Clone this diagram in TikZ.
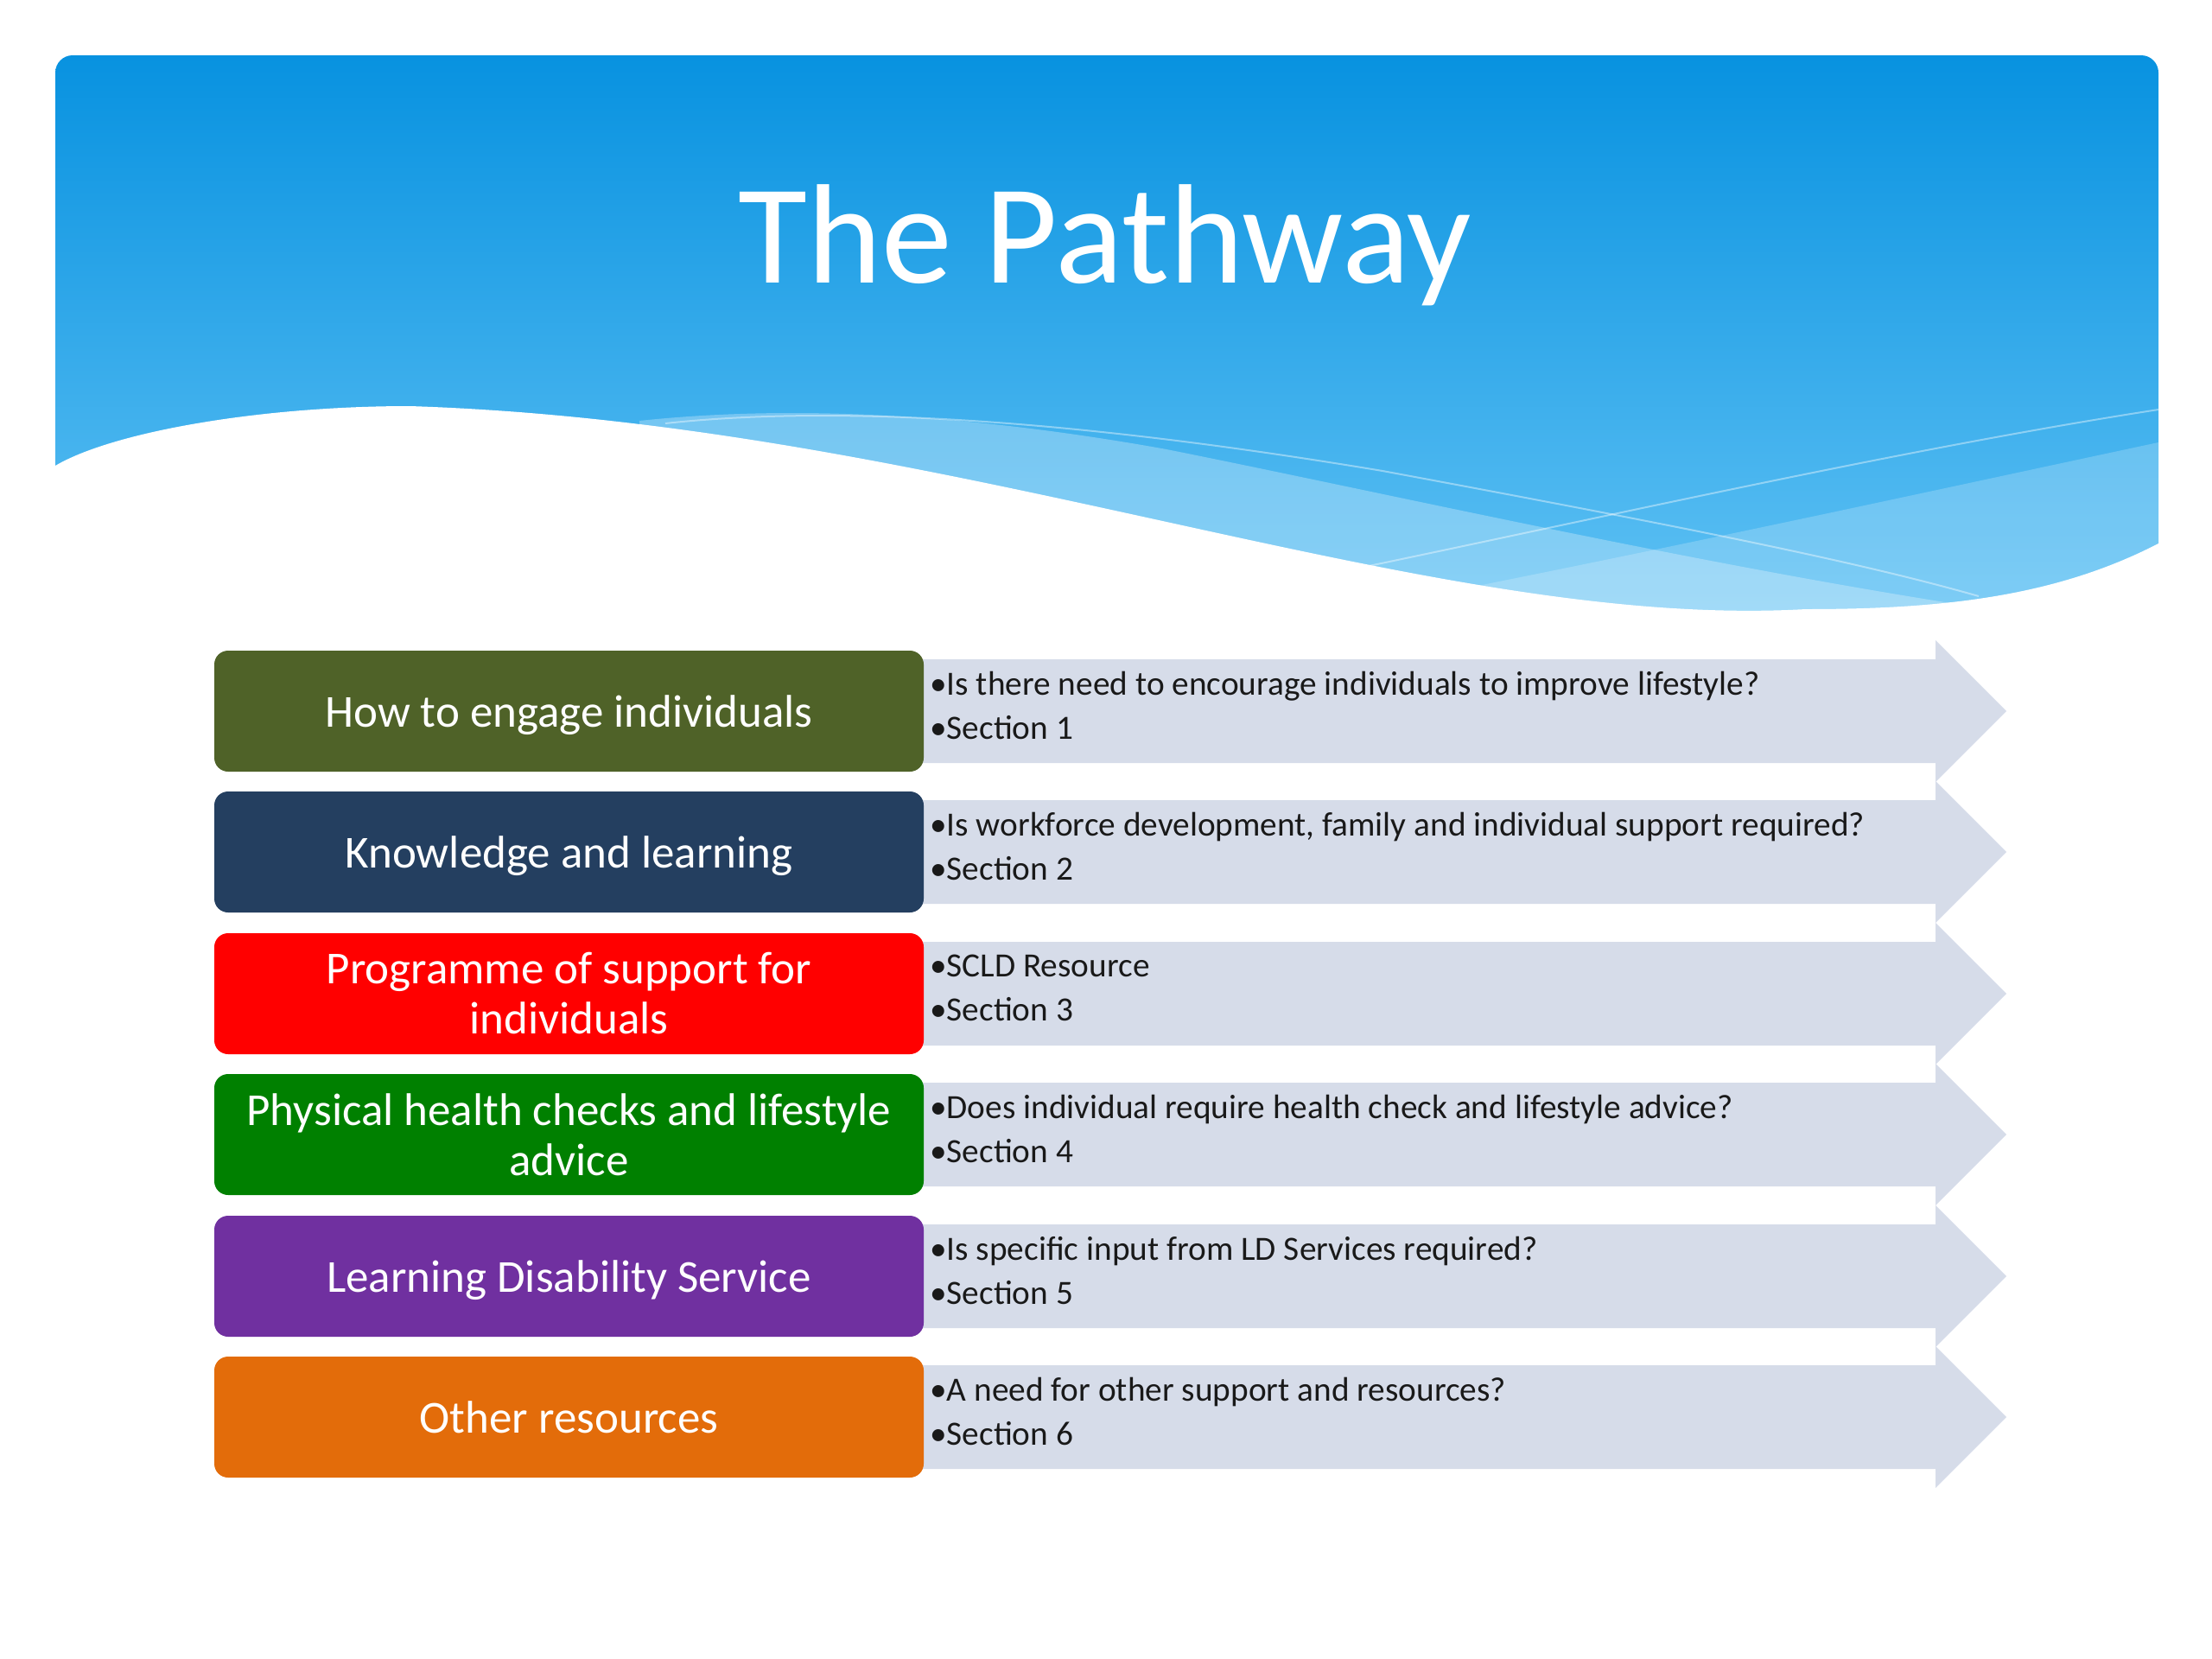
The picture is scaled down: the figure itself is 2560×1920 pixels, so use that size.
\documentclass[tikz,border=0pt]{standalone}
\usepackage{fontspec}
\setmainfont{Carlito}
\usetikzlibrary{positioning}
\definecolor{skytop}{HTML}{0892E0}
\definecolor{skybottom}{HTML}{68C6F6}
\definecolor{arrowgray}{HTML}{D6DCE9}
\definecolor{engagegreen}{HTML}{4F6228}
\definecolor{learnnavy}{HTML}{243F60}
\definecolor{supportred}{HTML}{FF0000}
\definecolor{healthgreen}{HTML}{008000}
\definecolor{ldpurple}{HTML}{7030A0}
\definecolor{otherorange}{HTML}{E36C0A}

\begin{document}
\begin{tikzpicture}[x=1pt,y=-1pt]
\tikzset{
  stepbox/.style={rectangle,rounded corners=16pt,minimum width=821pt,minimum height=140pt,inner sep=0pt,text=white,align=center,font=\fontsize{53}{58}\selectfont},
  itemtext/.style={anchor=west,inner sep=0pt,align=left,text=black!90,font=\fontsize{39.3}{51}\selectfont},
  pathfill/.style={fill=arrowgray},
  titletext/.style={anchor=base,inner sep=0pt,text=white,font=\fontsize{164}{164}\selectfont}
}
\useasboundingbox (0,0) rectangle (2560,1920);
% header band
\shade[top color=skytop,bottom color=skybottom,rounded corners=20pt] (64,64) rectangle (2498,780);
\fill[white,opacity=0.28] (740,487) .. controls (900,470) and (1100,475) .. (1350,520) .. controls (1600,570) and (1950,650) .. (2270,700) -- (2270,780) -- (740,780) -- cycle;
\fill[white,opacity=0.2] (2498,512) .. controls (2250,565) and (2000,620) .. (1700,680) -- (1700,780) -- (2498,780) -- cycle;
\draw[white,opacity=0.4,line width=2pt] (770,490) .. controls (1000,465) and (1300,495) .. (1600,545) .. controls (1950,610) and (2150,650) .. (2290,690);
\draw[white,opacity=0.4,line width=2pt] (2498,474) .. controls (2200,520) and (1850,600) .. (1560,660);
\fill[white] (64,539) .. controls (130,500) and (300,470) .. (474,470) .. controls (1100,490) and (1650,730) .. (2090,705) .. controls (2250,705) and (2380,690) .. (2498,629) -- (2520,629) -- (2520,800) -- (40,800) -- (40,539) -- cycle;
\node[titletext] (n_title) at (1279,327) {The Pathway};
% arrows
\fill[pathfill] (1060,763) -- (2240,763) -- (2240,741) -- (2322,823) -- (2240,905) -- (2240,883) -- (1060,883) -- cycle;
\fill[pathfill] (1060,926) -- (2240,926) -- (2240,904) -- (2322,986) -- (2240,1068) -- (2240,1046) -- (1060,1046) -- cycle;
\fill[pathfill] (1060,1090) -- (2240,1090) -- (2240,1068) -- (2322,1150) -- (2240,1232) -- (2240,1210) -- (1060,1210) -- cycle;
\fill[pathfill] (1060,1253) -- (2240,1253) -- (2240,1231) -- (2322,1313) -- (2240,1395) -- (2240,1373) -- (1060,1373) -- cycle;
\fill[pathfill] (1060,1417) -- (2240,1417) -- (2240,1395) -- (2322,1477) -- (2240,1559) -- (2240,1537) -- (1060,1537) -- cycle;
\fill[pathfill] (1060,1580) -- (2240,1580) -- (2240,1558) -- (2322,1640) -- (2240,1722) -- (2240,1700) -- (1060,1700) -- cycle;
% boxes
\node[stepbox,fill=engagegreen,text depth=0pt] (n_engage) at (658.5,823) {How to engage individuals};
\node[stepbox,fill=learnnavy,text depth=0pt] (n_learn) at (658.5,986) {Knowledge and learning};
\node[stepbox,fill=supportred] (n_support) at (658.5,1150) {Programme of support for\\individuals};
\node[stepbox,fill=healthgreen] (n_health) at (658.5,1313) {Physical health checks and lifestyle\\advice};
\node[stepbox,fill=ldpurple,text depth=0pt] (n_ld) at (658.5,1477) {Learning Disability Service};
\node[stepbox,fill=otherorange,text depth=0pt] (n_other) at (658.5,1640) {Other resources};
% arrow texts
\node[itemtext] (n_engage_txt) at (1076,816) {•Is there need to encourage individuals to improve lifestyle?\\•Section 1};
\node[itemtext] (n_learn_txt) at (1076,979) {•Is workforce development, family and individual support required?\\•Section 2};
\node[itemtext] (n_support_txt) at (1076,1143) {•SCLD Resource\\•Section 3};
\node[itemtext] (n_health_txt) at (1076,1306) {•Does individual require health check and lifestyle advice?\\•Section 4};
\node[itemtext] (n_ld_txt) at (1076,1470) {•Is specific input from LD Services required?\\•Section 5};
\node[itemtext] (n_other_txt) at (1076,1633) {•A need for other support and resources?\\•Section 6};
\end{tikzpicture}
\end{document}
